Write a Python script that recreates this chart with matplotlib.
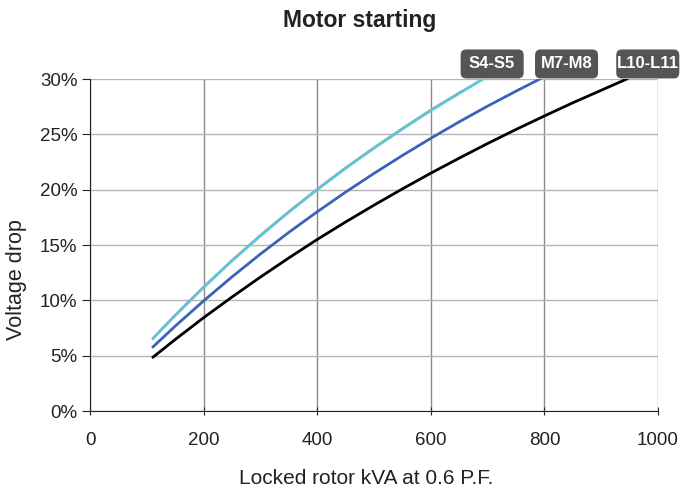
import matplotlib.pyplot as plt
from matplotlib.patches import FancyBboxPatch
from matplotlib.ticker import FuncFormatter

# Locked rotor kVA vs voltage drop (%)
kva_s = [111, 150, 200, 250, 300, 350, 400, 450, 500, 550, 600, 650, 692]
drop_s = [6.55, 8.63, 11.17, 13.57, 15.83, 17.97, 20.0, 21.93, 23.75, 25.48, 27.15, 28.7, 30.0]
drop_s_alt = [6.65, 8.73, 11.27, 13.67, 15.93, 18.07, 20.1, 22.03, 23.85, 25.58, 27.25, 28.8, 30.0]

kva_m = [111, 150, 200, 250, 300, 350, 400, 450, 500, 550, 600, 650, 700, 750, 792]
drop_m = [5.8, 7.67, 9.95, 12.12, 14.18, 16.14, 18.0, 19.78, 21.47, 23.09, 24.64,
          26.13, 27.55, 28.9, 30.0]

kva_l = [111, 150, 200, 250, 300, 350, 400, 450, 500, 550, 600, 650, 700,
         750, 800, 850, 900, 945]
drop_l = [4.87, 6.46, 8.43, 10.3, 12.1, 13.83, 15.5, 17.08, 18.6, 20.07, 21.49, 22.85,
          24.17, 25.44, 26.66, 27.85, 28.98, 30.0]

labels = ['S4-S5', 'M7-M8', 'L10-L11']
label_x = [708, 839, 982]

plt.rcParams['font.family'] = ['Liberation Sans', 'DejaVu Sans']

fig = plt.figure(figsize=(6.81, 4.91), dpi=100)
ax = fig.add_axes([90 / 681, 1 - 411 / 491, 568 / 681, 332 / 491])

ax.plot(kva_s, drop_s_alt, color='#e07070', lw=1.0, zorder=3)
ax.plot(kva_s, drop_s, color='#5bc8d8', lw=2.0, zorder=4)
ax.plot(kva_m, drop_m, color='#3a63b8', lw=2.0, zorder=4)
ax.plot(kva_l, drop_l, color='#000000', lw=2.0, zorder=4)

ax.set_xlim(0, 1000)
ax.set_ylim(0, 30)
ax.set_xticks(range(0, 1001, 200))
ax.set_yticks(range(0, 31, 5))
ax.yaxis.set_major_formatter(FuncFormatter(lambda v, p: f'{v:.0f}%'))

ax.grid(axis='x', color='#8a8a8a', lw=1.0)
ax.grid(axis='y', color='#b4b4b4', lw=1.0)
ax.set_axisbelow(True)

for s in ['top', 'right']:
    ax.spines[s].set_visible(False)
ax.spines['left'].set_color('#222222')
ax.spines['bottom'].set_color('#222222')
ax.tick_params(axis='both', length=6, color='#222222', labelsize=13.5,
               labelcolor='#222222')
ax.tick_params(axis='x', direction='inout', pad=12)
ax.tick_params(axis='y', direction='out', length=6, pad=3)

ax.set_xlabel('Locked rotor kVA at 0.6 P.F.', fontsize=15, color='#222222', va='center')
ax.xaxis.set_label_coords(0.486, -0.202)
ax.set_ylabel('Voltage drop', fontsize=15.5, color='#222222', va='center')
ax.yaxis.set_label_coords(-0.13, 0.395)

fig.text(360 / 681, 1 - 21 / 491, 'Motor starting', ha='center', va='center',
         fontsize=16.5, fontweight='bold', color='#222222')

# dark rounded tags above the top of the plot
bw, bh = 111, 2.62
for lab, lx in zip(labels, label_x):
    box = FancyBboxPatch((lx - bw / 2, 30.05), bw, bh,
                         boxstyle='round,pad=0,rounding_size=10',
                         mutation_aspect=0.0513, fc='#555555', ec='none',
                         clip_on=False, zorder=5)
    ax.add_patch(box)
    ax.text(lx, 30.05 + bh / 2, lab, ha='center', va='center', fontsize=12,
            fontweight='bold', color='white', clip_on=False, zorder=6)

fig.savefig('out.png', dpi=100)
